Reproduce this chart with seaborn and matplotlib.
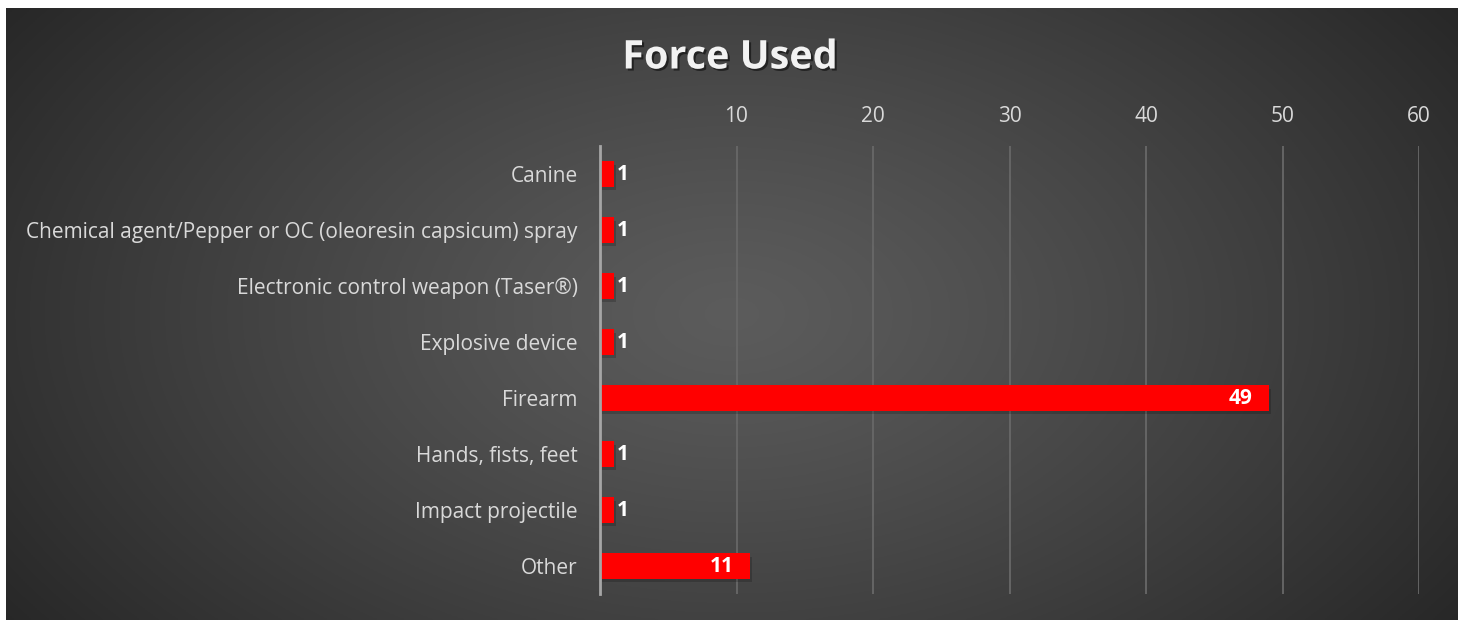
import numpy as np
import pandas as pd
import matplotlib
matplotlib.use("Agg")
import matplotlib.pyplot as plt
import matplotlib.patheffects as pe
import seaborn as sns

categories = [
    "Canine",
    "Chemical agent/Pepper or OC (oleoresin capsicum) spray",
    "Electronic control weapon (Taser®)",
    "Explosive device",
    "Firearm",
    "Hands, fists, feet",
    "Impact projectile",
    "Other",
]
counts = [1, 1, 1, 1, 49, 1, 1, 11]
x_ticks = [10, 20, 30, 40, 50, 60]

df = pd.DataFrame({"force": categories, "count": counts})

sns.set_theme(style="dark")
plt.rcParams["font.family"] = ["Open Sans", "DejaVu Sans"]

W, H = 1464, 620
fig = plt.figure(figsize=(W / 100, H / 100), dpi=100)
fig.patch.set_facecolor("white")

# gradient background (lighter centre, dark edges)
bg = fig.add_axes([6 / W, 0, 1452 / W, 612 / H], zorder=-1)
yy, xx = np.mgrid[0:1:300j, 0:1:700j]
r = np.sqrt(((xx - 0.5) / 0.62) ** 2 + ((yy - 0.5) / 0.9) ** 2)
r = np.clip(r, 0, 1)
shade = 0.36 - (0.36 - 0.15) * r ** 1.2
bg.imshow(np.dstack([shade] * 3), aspect="auto", extent=[0, 1, 0, 1])
bg.set_axis_off()

ax = fig.add_axes([600 / W, (H - 594) / H, 819 / W, 448 / H])
ax.set_facecolor("none")
sns.barplot(data=df, x="count", y="force", color="#ff0000", width=0.46,
            saturation=1, linewidth=0, ax=ax, zorder=3)

for p in ax.patches:
    p.set_path_effects([pe.SimplePatchShadow(offset=(1.5, -2.5), shadow_rgbFace="black", alpha=0.18),
                        pe.Normal()])

for i, v in enumerate(counts):
    if v > 5:
        ax.text(v - 1.2, i, str(v), ha="right", va="center", color="white",
                fontsize=15, fontweight="bold", zorder=4)
    else:
        ax.text(v + 0.2, i, str(v), ha="left", va="center", color="white",
                fontsize=15, fontweight="bold", zorder=4)

ax.set_xlim(0, 60)
ax.set_ylim(7.5, -0.5)
ax.xaxis.tick_top()
ax.set_xticks(x_ticks)
ax.set_xlabel("")
ax.set_ylabel("")
ax.tick_params(axis="x", length=0, pad=14, labelsize=15, labelcolor="#d9d9d9")
ax.tick_params(axis="y", length=0, pad=16, labelsize=15, labelcolor="#d9d9d9")
ax.grid(axis="x", color="#686868", linewidth=1.3, zorder=0)
ax.grid(axis="y", visible=False)
for s in ["top", "right", "bottom"]:
    ax.spines[s].set_visible(False)
ax.spines["left"].set_color("#a6a6a6")
ax.spines["left"].set_linewidth(2)
ax.spines["left"].set_zorder(5)

fig.text(730 / W, 1 - 58 / H, "Force Used", ha="center", va="center",
         color="#f2f2f2", fontsize=28.5, fontweight="bold",
         path_effects=[pe.withSimplePatchShadow(offset=(1.5, -1.5), shadow_rgbFace="black", alpha=0.5)])

fig.savefig("out.png", dpi=100, facecolor=fig.get_facecolor())
